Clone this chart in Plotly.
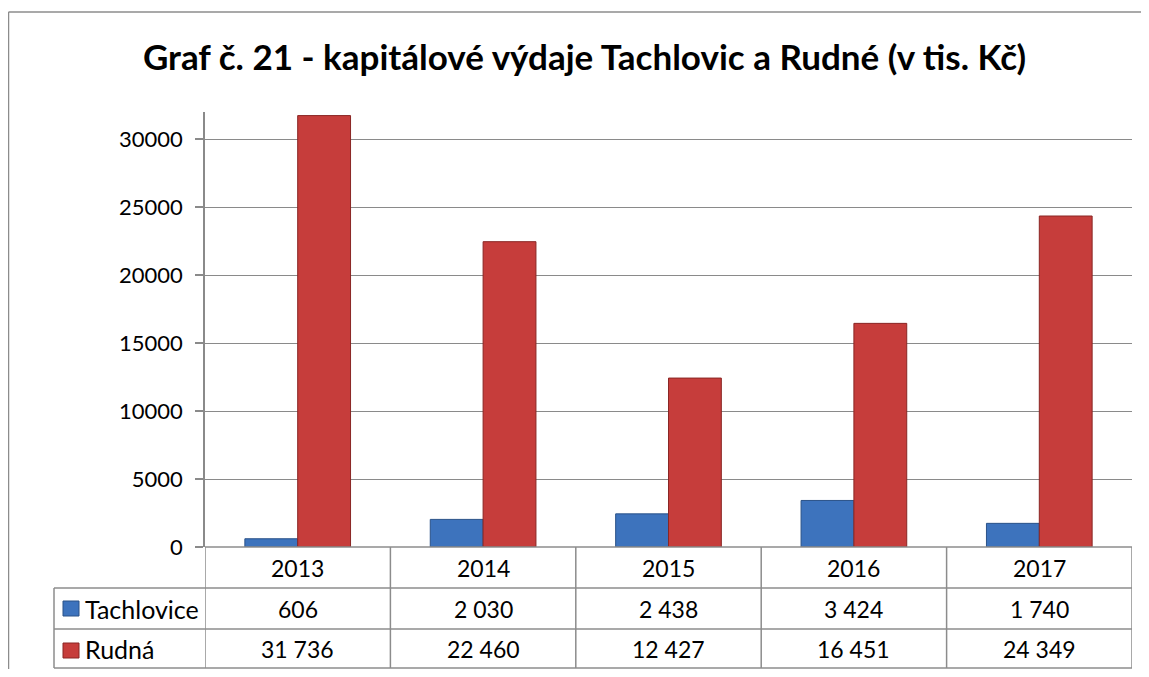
import plotly.graph_objects as go

years = ["2013", "2014", "2015", "2016", "2017"]
series_names = ["Tachlovice", "Rudná"]
tachlovice = [606, 2030, 2438, 3424, 1740]
rudna = [31736, 22460, 12427, 16451, 24349]
y_ticks = [0, 5000, 10000, 15000, 20000, 25000, 30000]

FONT = "Lato"
OFF = 8  # page body margin
W, H = 1149 - 2 * OFF, 677 - 2 * OFF
PW, PH = 927, 435
L, T = 205 - OFF, 112 - OFF
R, B = W - L - PW, H - T - PH

def px_x(px):
    return (px - OFF - L) / PW

def px_y(py):
    return (H - B - (py - OFF)) / PH

colors = ["#3d73bd", "#c63d3b"]
edges = ["#2a5288", "#8a2624"]

fig = go.Figure()
for name, vals, c, e in zip(series_names, [tachlovice, rudna], colors, edges):
    fig.add_trace(go.Bar(
        x=years, y=vals, name=name,
        marker=dict(color=c, line=dict(color=e, width=1)),
        hoverinfo="x+y+name",
    ))

fig.update_layout(
    width=W, height=H,
    margin=dict(l=L, r=R, t=T, b=B, autoexpand=False),
    paper_bgcolor="white", plot_bgcolor="white",
    barmode="group", bargap=0.43, bargroupgap=0.0,
    showlegend=False,
    font=dict(family=FONT, color="black"),
    title=dict(
        text="<b>Graf č. 21 - kapitálové výdaje Tachlovic a Rudné (v tis. Kč)</b>",
        x=(584.5 - OFF) / W, xref="container", xanchor="center",
        y=1 - (58 - OFF) / H, yref="container", yanchor="middle",
        font=dict(family=FONT, size=35, color="black"),
    ),
    xaxis=dict(
        type="category", range=[-0.5, 4.5], showticklabels=False,
        showgrid=False, showline=False, zeroline=False, ticks="",
    ),
    yaxis=dict(
        range=[0, 32000], tickvals=y_ticks, ticktext=[str(v) for v in y_ticks],
        showgrid=True, gridcolor="#8a8a8a", gridwidth=1.2,
        showline=True, linecolor="#8a8a8a", linewidth=1.5,
        ticks="outside", ticklen=8, tickcolor="#8a8a8a", tickwidth=1.5,
        tickfont=dict(family=FONT, size=22, color="black"),
        zeroline=False, ticklabelstandoff=8,
    ),
)

line_style = dict(color="#8c8c8c", width=1.5)
shapes = []
# outer frame: top and left edges, kept inside the drawing
shapes.append(dict(type="line", xref="paper", yref="paper",
                   x0=px_x(8.5), x1=px_x(OFF + W), y0=px_y(12), y1=px_y(12),
                   line=line_style, layer="below"))
shapes.append(dict(type="line", xref="paper", yref="paper",
                   x0=px_x(8.5), x1=px_x(8.5), y0=px_y(12), y1=px_y(OFF + H),
                   line=line_style, layer="below"))
# table horizontal lines
shapes.append(dict(type="line", xref="paper", yref="paper", x0=0, x1=1, y0=0, y1=0, line=line_style))
for py in [588, 629, 668]:
    shapes.append(dict(type="line", xref="paper", yref="paper",
                       x0=px_x(54), x1=1, y0=px_y(py), y1=px_y(py), line=line_style))
# table vertical lines
shapes.append(dict(type="line", xref="paper", yref="paper",
                   x0=px_x(54), x1=px_x(54), y0=px_y(588), y1=px_y(668), line=line_style))
for i in range(len(years) + 1):
    shapes.append(dict(type="line", xref="x", yref="paper",
                       x0=i - 0.5, x1=i - 0.5, y0=0, y1=px_y(668), line=line_style))
# legend keys
for (y0, y1), c, e in zip([(601, 616), (643, 658)], colors, edges):
    shapes.append(dict(type="rect", xref="paper", yref="paper",
                       x0=px_x(63), x1=px_x(79), y0=px_y(y1), y1=px_y(y0),
                       fillcolor=c, line=dict(color=e, width=1)))
fig.update_layout(shapes=shapes)

ann = []
tf = dict(family=FONT, size=23, color="black")
for i, yr in enumerate(years):
    ann.append(dict(x=i, xref="x", y=px_y(567.5), yref="paper", text=yr,
                    showarrow=False, font=tf, xanchor="center", yanchor="middle"))
for vals, py in [(tachlovice, 608.5), (rudna, 649)]:
    for i, v in enumerate(vals):
        ann.append(dict(x=i, xref="x", y=px_y(py), yref="paper",
                        text=f"{v:,}".replace(",", " "),
                        showarrow=False, font=tf, xanchor="center", yanchor="middle"))
for name, py in zip(series_names, [608.5, 649]):
    ann.append(dict(x=px_x(83), xref="paper", y=px_y(py), yref="paper", text=name,
                    showarrow=False, font=dict(family=FONT, size=25, color="black"),
                    xanchor="left", yanchor="middle"))
fig.update_layout(annotations=ann)

fig.write_html("out.html")
